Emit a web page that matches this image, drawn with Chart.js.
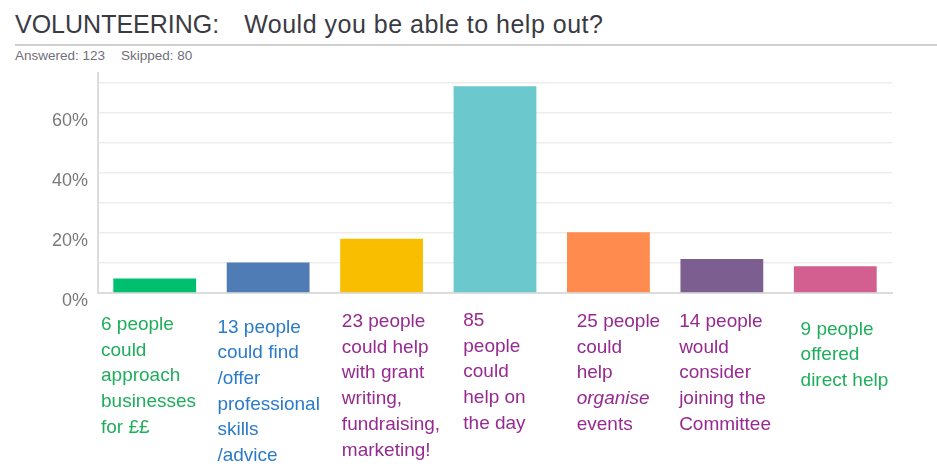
<!DOCTYPE html>
<html>
<head>
<meta charset="utf-8">
<script src="https://cdn.jsdelivr.net/npm/chart.js@4.4.0/dist/chart.umd.min.js"></script>
<style>
  html, body { margin: 0; padding: 0; background: #fff; }
  body { width: 937px; height: 471px; position: relative; overflow: hidden; font-family: Arial, "Liberation Sans", sans-serif; }
  #title { position: absolute; left: 15px; top: 9px; font-size: 25px; line-height: 30px; color: #3a3a44; white-space: pre; }
  #title span + span { margin-left: 18px; letter-spacing: 0.5px; }
  #rule { position: absolute; left: 15px; right: 0; top: 44px; height: 2px; background: #d0d0d0; }
  #sub { position: absolute; left: 15px; top: 48px; font-size: 13.5px; line-height: 16px; color: #70707a; white-space: pre; }
  #sub span + span { margin-left: 16px; }
  canvas { position: absolute; left: 0; top: 0; }
</style>
</head>
<body>
<div id="title"><span>VOLUNTEERING: </span><span>Would you be able to help out?</span></div>
<div id="rule"></div>
<div id="sub"><span>Answered: 123</span><span>Skipped: 80</span></div>
<canvas id="chartVoluntariado" width="937" height="471"></canvas>
<script>
// === Datos ===
const categorias = [
    ['6 people', 'could', 'approach', 'businesses', 'for ££'],
    ['13 people', 'could find', '/offer', 'professional', 'skills', '/advice'],
    ['23 people', 'could help', 'with grant', 'writing,', 'fundraising,', 'marketing!'],
    ['85', 'people', 'could', 'help on', 'the day'],
    ['25 people', 'could', 'help', 'organise', 'events'],
    ['14 people', 'would', 'consider', 'joining the', 'Committee'],
    ['9 people', 'offered', 'direct help']
];
const porcentajes = [4.8, 10.2, 18.1, 68.9, 20.2, 11.3, 8.9];
const ticksY = [0, 10, 20, 30, 40, 50, 60, 70];
const palabrasCursiva = ['organise'];

const coloresBarras = ['#00bf6f', '#507cb6', '#f9be00', '#6bc8cd', '#ff8b4f', '#7d5e90', '#d25f90'];
const coloresTexto = ['#1fae5b', '#2b7bc9', '#962a90', '#962a90', '#962a90', '#962a90', '#1fae5b'];

// Etiquetas multilínea debajo de cada barra (colocadas a mano como en la captura)
const etiquetasPlugin = {
    id: 'etiquetas',
    afterDraw(chart, args, opts) {
        const ctx = chart.ctx;
        const x = chart.scales.x;
        const ancho = x.width / categorias.length;
        const base = chart.chartArea.bottom;
        ctx.save();
        ctx.textAlign = 'left';
        ctx.textBaseline = 'alphabetic';
        categorias.forEach((lineas, i) => {
            const x0 = x.getPixelForValue(i) - ancho / 2 + opts.dx[i];
            let y = base + opts.dy[i];
            ctx.fillStyle = coloresTexto[i];
            lineas.forEach(l => {
                const cursiva = palabrasCursiva.includes(l) ? 'italic ' : '';
                ctx.font = cursiva + '19px Arial, "Liberation Sans", sans-serif';
                ctx.fillText(l, x0, y);
                y += opts.lineHeight;
            });
        });
        ctx.restore();
    }
};

new Chart(document.getElementById('chartVoluntariado'), {
    type: 'bar',
    data: {
        labels: categorias.map(c => c.join(' ')),
        datasets: [{
            data: porcentajes,
            backgroundColor: coloresBarras,
            borderWidth: 0,
            categoryPercentage: 1,
            barPercentage: 0.73
        }]
    },
    options: {
        responsive: false,
        animation: false,
        layout: { padding: { top: 73, right: 45, left: 0, bottom: 0 } },
        plugins: {
            legend: { display: false },
            tooltip: { enabled: false },
            etiquetas: {
                dx: [3, 6, 17, 25, 25, 14, 22],
                dy: [37, 39.5, 34, 33, 34, 34, 41.5],
                lineHeight: 25.7
            }
        },
        scales: {
            x: {
                grid: { display: false },
                border: { color: '#dcdcdc', width: 2 },
                ticks: { display: false },
                afterFit(scale) { scale.height = 178; }
            },
            y: {
                min: 0,
                max: 73.3,
                afterBuildTicks(scale) { scale.ticks = ticksY.map(v => ({ value: v })); },
                afterFit(scale) { scale.width = 98; },
                grid: { color: '#ededed', lineWidth: 1.5, drawTicks: false },
                border: { color: '#dcdcdc', width: 2 },
                ticks: {
                    padding: 10,
                    labelOffset: 8,
                    color: '#7a7a7a',
                    font: { family: 'Arial, "Liberation Sans", sans-serif', size: 18 },
                    callback: v => (v % 20 === 0 ? v + '%' : '')
                }
            }
        }
    },
    plugins: [etiquetasPlugin]
});
</script>
</body>
</html>
